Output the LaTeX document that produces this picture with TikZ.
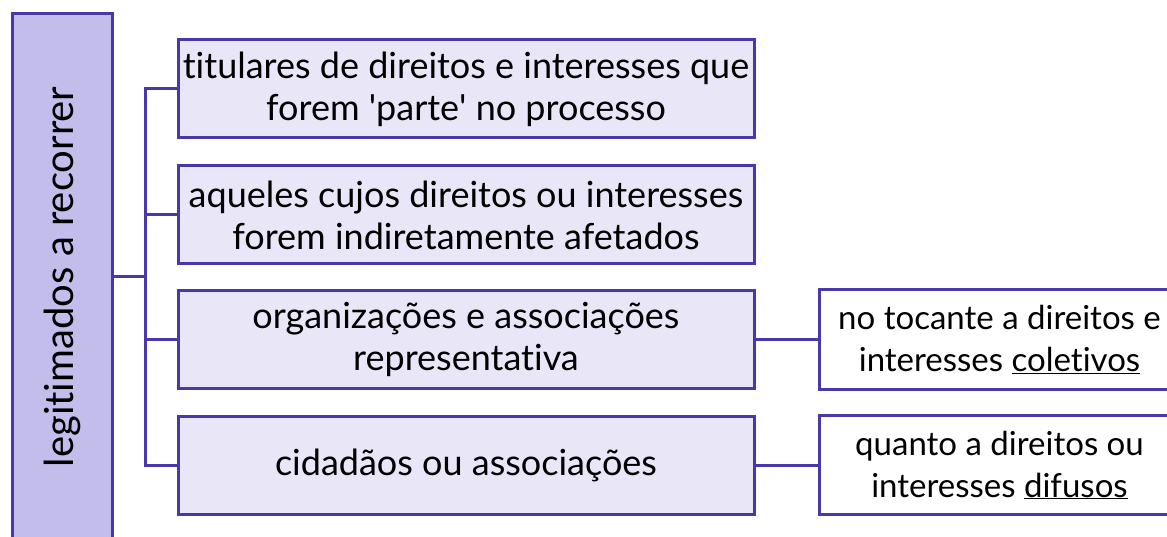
\documentclass[tikz,border=0pt]{standalone}
\usepackage{fontspec}
\setmainfont{Lato}[Ligatures=NoCommon]
\usetikzlibrary{positioning}
\definecolor{boxline}{RGB}{72,56,170}
\definecolor{sidefill}{RGB}{195,189,236}
\definecolor{itemfill}{RGB}{233,230,248}
\tikzset{
    itembox/.style={draw=boxline, line width=3pt, fill=itemfill, minimum width=576pt, minimum height=98pt, align=center, font=\fontsize{36}{42}\selectfont, inner sep=0pt},
    notebox/.style={draw=boxline, line width=3pt, fill=white, minimum width=361pt, minimum height=99pt, align=center, font=\fontsize{33}{42}\selectfont, inner sep=0pt},
    link/.style={draw=boxline, line width=3pt}
}
\begin{document}
\begin{tikzpicture}[x=1pt, y=-1pt]
    \useasboundingbox (0,0) rectangle (1167,537);
    \begin{scope}
    \clip (0,0) rectangle (1167,537);
    % left column
    \node[draw=boxline, line width=3pt, fill=sidefill, minimum width=100pt, minimum height=526pt, inner sep=0pt] (side) at (62,277) {};
    \node[rotate=90, font=\fontsize{40}{42}\selectfont] (sidetext) at (62,277) {legitimados a recorrer};
    % items
    \node[itembox] (tit) at (466,89) {titulares de direitos e interesses que\\forem \textquotesingle parte\textquotesingle{} no processo};
    \node[itembox] (ind) at (466,215) {aqueles cujos direitos ou interesses\\forem indiretamente afetados};
    \node[itembox] (org) at (466,339.5) {organizações e associações\\representativa};
    \node[itembox] (cid) at (466,465) {cidadãos ou associações};
    % notes
    \node[notebox] (col) at (999.5,339.5) {no tocante a direitos e\\interesses \underline{coletivos}};
    \node[notebox] (dif) at (999.5,465) {quanto a direitos ou\\interesses \underline{difusos}};
    \end{scope}
    % connectors
    \coordinate (trunk) at (145,277);
    \draw[link] (side.east |- trunk) -- (trunk);
    \draw[link] (tit.west) -| (trunk |- tit.west) -- (trunk |- cid.west) -- (cid.west);
    \draw[link] (ind.west) -- (trunk |- ind.west);
    \draw[link] (org.west) -- (trunk |- org.west);
    \draw[link] (org.east) -- (col.west);
    \draw[link] (cid.east) -- (dif.west);
\end{tikzpicture}
\end{document}
